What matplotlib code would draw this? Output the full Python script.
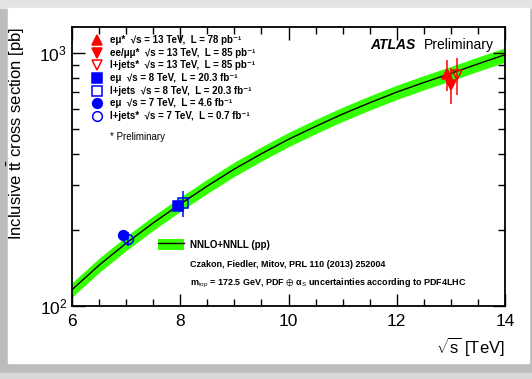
import numpy as np
import matplotlib
matplotlib.use("Agg")
import matplotlib.pyplot as plt
from matplotlib.lines import Line2D
from matplotlib.patches import Rectangle

plt.rcParams['font.family'] = ['Liberation Sans', 'DejaVu Sans']
plt.rcParams['mathtext.fontset'] = 'custom'
plt.rcParams['mathtext.rm'] = 'Liberation Sans'
plt.rcParams['mathtext.it'] = 'Liberation Sans:italic'
plt.rcParams['mathtext.bf'] = 'Liberation Sans:bold'
plt.rcParams['mathtext.default'] = 'regular'

# NNLO+NNLL theory (pb) vs sqrt(s) (TeV)
th_x = [6, 6.5, 7, 7.5, 8, 8.5, 9, 9.5, 10, 10.5, 11, 11.5, 12, 12.5, 13, 13.5, 14]
th_y = [116, 145, 177, 213, 253, 298, 348, 400, 456, 513, 574, 636, 701, 765, 831, 906, 985]
th_rel = 0.065  # relative band half width

# measurements
meas_lab = ["eμ*  √s = 13 TeV,  L = 78 pb⁻¹",
            "ee/μμ*  √s = 13 TeV,  L = 85 pb⁻¹",
            "l+jets*  √s = 13 TeV,  L = 85 pb⁻¹",
            "eμ  √s = 8 TeV,  L = 20.3 fb⁻¹",
            "l+jets  √s = 8 TeV,  L = 20.3 fb⁻¹",
            "eμ  √s = 7 TeV,  L = 4.6 fb⁻¹",
            "l+jets*  √s = 7 TeV,  L = 0.7 fb⁻¹"]
meas_x = [12.92, 13.0, 13.12, 7.96, 8.05, 6.95, 7.04]
meas_y = [825, 749, 817, 248, 255, 190, 184]
meas_err = [114, 122, 136, 10, 30, 7, 12]
meas_mk = ['^', 'v', 'v', 's', 's', 'o', 'o']
meas_col = ['#ff0000', '#ff0000', '#ff0000', '#0000ff', '#0000ff', '#0000ff', '#0000ff']
meas_fill = [True, True, False, True, False, True, False]

fig = plt.figure(figsize=(5.32, 3.79), dpi=100)
fig.patch.set_facecolor('#bcbcbc')
fig.add_artist(Rectangle((0, 0), 1, 6/379, transform=fig.transFigure, color='#d8d8d8', zorder=-5))
fig.add_artist(Rectangle((0, 1-8/379), 1, 8/379, transform=fig.transFigure, color='#e4e4e4', zorder=-5))
fig.add_artist(Rectangle((8/532, 16/379), 1-11/532, 1-24/379, transform=fig.transFigure,
                         color='white', zorder=-4))

ax = fig.add_axes([72/532, 1-306/379, 433/532, 279/379])
ax.patch.set_alpha(0)

tx = np.array(th_x)
ty = np.array(th_y)
ax.fill_between(tx, ty*(1-th_rel), ty*(1+th_rel), color='#33ff00', lw=0, zorder=1)
ax.plot(tx, ty, color='black', lw=1, zorder=2)

for i in range(len(meas_x)):
    ms = 7 if meas_mk[i] != 's' else 6.5
    mfc = meas_col[i] if meas_fill[i] else 'none'
    ax.errorbar(meas_x[i], meas_y[i], yerr=meas_err[i], fmt='none', ecolor=meas_col[i],
                elinewidth=1.1, capsize=0, zorder=3)
    ax.plot(meas_x[i], meas_y[i], marker=meas_mk[i], ms=ms, mfc=mfc, mec=meas_col[i],
            mew=1.1, ls='none', zorder=4)
    # legend entry
    yl = (306 - 40 - 12.7*i) / 279
    ax.plot(0.058, yl, marker=meas_mk[i], ms=ms, mfc=mfc, mec=meas_col[i], mew=1.1,
            ls='none', transform=ax.transAxes, clip_on=False, zorder=5)
    ax.text(0.088, yl, meas_lab[i], transform=ax.transAxes, fontsize=7, fontweight='bold',
            va='center')

ax.text(0.088, (306-137)/279, "* Preliminary", transform=ax.transAxes, fontsize=7, va='center')

ax.set_yscale('log')
ax.set_xlim(6, 14)
ax.set_ylim(100, 1268)
ax.set_xticks([6, 8, 10, 12, 14])
ax.set_xticks(np.arange(6, 14.01, 0.5), minor=True)
ax.tick_params(which='both', direction='in', top=True, right=True, labelsize=12.5, width=1)
ax.tick_params(which='major', length=9)
ax.tick_params(which='minor', length=5)
ax.tick_params(axis='x', pad=6)
ax.yaxis.set_minor_formatter(matplotlib.ticker.NullFormatter())
for s in ax.spines.values():
    s.set_linewidth(1.3)

ax.set_xlabel(r"$\sqrt{s}$ [TeV]", fontsize=12, loc='right', labelpad=4)
ax.set_ylabel(r"Inclusive t$\bar{\rm t}$ cross section [pb]", fontsize=12, loc='top', labelpad=9)

# theory legend
ax.legend([(Rectangle((0, 0), 1, 1, color='#33ff00', lw=0), Line2D([], [], color='black', lw=1))],
          ["NNLO+NNLL (pp)"], loc='upper left', bbox_to_anchor=(0.19, 0.255), frameon=False,
          prop={'size': 7, 'weight': 'bold'}, handlelength=2.7, handleheight=1.4,
          handletextpad=0.55, borderaxespad=0)
ax.text(0.272, 0.15, "Czakon, Fiedler, Mitov, PRL 110 (2013) 252004", transform=ax.transAxes,
        fontsize=6.5, fontweight='bold', va='center')
ax.text(0.272, 0.08, r"m$_{\rm top}$ = 172.5 GeV, PDF $\oplus$ $\alpha_{\rm S}$ uncertainties according to PDF4LHC",
        transform=ax.transAxes, fontsize=6.5, fontweight='bold', va='center')

ax.text(0.688, 0.935, "ATLAS", transform=ax.transAxes, fontsize=10, fontweight='bold',
        fontstyle='italic', va='center')
ax.text(0.812, 0.935, "Preliminary", transform=ax.transAxes, fontsize=10, va='center')

fig.savefig("out.png", dpi=100)
